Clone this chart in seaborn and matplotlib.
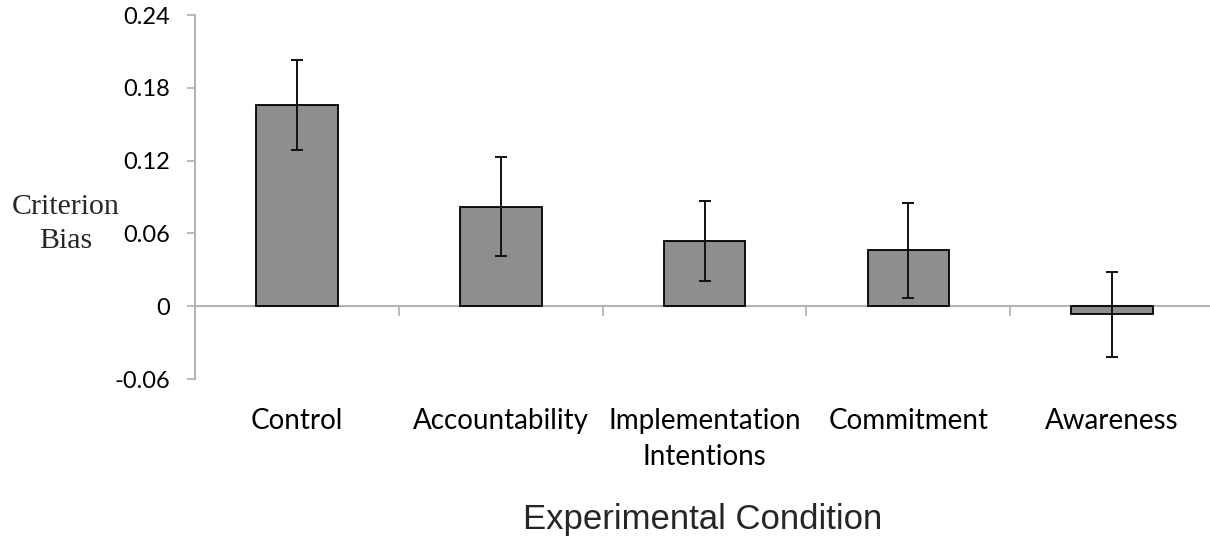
import numpy as np
import pandas as pd
import matplotlib
matplotlib.use("Agg")
import matplotlib.pyplot as plt
import seaborn as sns

conditions = ["Control", "Accountability", "Implementation\nIntentions",
              "Commitment", "Awareness"]
bias = [0.166, 0.082, 0.054, 0.046, -0.0065]
errors = [0.037, 0.041, 0.033, 0.039, 0.035]
y_ticks = [-0.06, 0, 0.06, 0.12, 0.18, 0.24]
y_tick_labels = ["-0.06", "0", "0.06", "0.12", "0.18", "0.24"]

df = pd.DataFrame({"condition": conditions, "bias": bias, "err": errors})

sns.set_style("white")
plt.rcParams["font.family"] = ["Lato", "DejaVu Sans"]

AXIS_GRAY = "#b4b4b4"

fig = plt.figure(figsize=(12.1, 5.42), dpi=100)
ax = fig.add_axes([0.1612, 0.3007, 0.8388, 0.6716])

sns.barplot(data=df, x="condition", y="bias", color="#8e8e8e", saturation=1,
            width=0.4, edgecolor="black", linewidth=1.3, errorbar=None, ax=ax)
ax.errorbar(np.arange(len(conditions)), df["bias"], yerr=df["err"], fmt="none",
            ecolor="#111111", elinewidth=1.4, capsize=4.5, capthick=1.4, zorder=5)

ax.set_xlim(-0.5, 4.48)
ax.set_ylim(-0.06, 0.24)
ax.set_yticks(y_ticks, y_tick_labels)
ax.tick_params(axis="y", direction="out", length=6, width=1.3, color=AXIS_GRAY,
               pad=12, labelsize=17, labelcolor="black", left=True)
ax.set_xticks(range(len(conditions)), conditions)
ax.tick_params(axis="x", length=0, pad=21, labelsize=20, labelcolor="black")
for lbl in ax.get_xticklabels():
    lbl.set_linespacing(1.45)

for side in ["top", "right", "bottom"]:
    ax.spines[side].set_visible(False)
ax.spines["left"].set_color(AXIS_GRAY)
ax.spines["left"].set_linewidth(1.5)

# zero line with category divider ticks
zero_frac = (0 - y_ticks[0]) / (y_ticks[-1] - y_ticks[0])
sec = ax.secondary_xaxis(zero_frac)
sec.set_xticks([0.5, 1.5, 2.5, 3.5], ["", "", "", ""])
sec.tick_params(direction="out", length=7, width=1.3, color=AXIS_GRAY)
sec.spines["bottom"].set_color(AXIS_GRAY)
sec.spines["bottom"].set_linewidth(1.5)
for side in ["top", "left", "right"]:
    sec.spines[side].set_visible(False)

ax.set_xlabel("Experimental Condition", fontsize=25, family="Liberation Sans",
              labelpad=24)
ax.set_ylabel("")
fig.text(0.0545, 0.587, "Criterion\nBias", fontsize=21.5, family="Liberation Serif",
         ha="center", va="center", linespacing=1.4)

fig.savefig("out.png", dpi=100)
